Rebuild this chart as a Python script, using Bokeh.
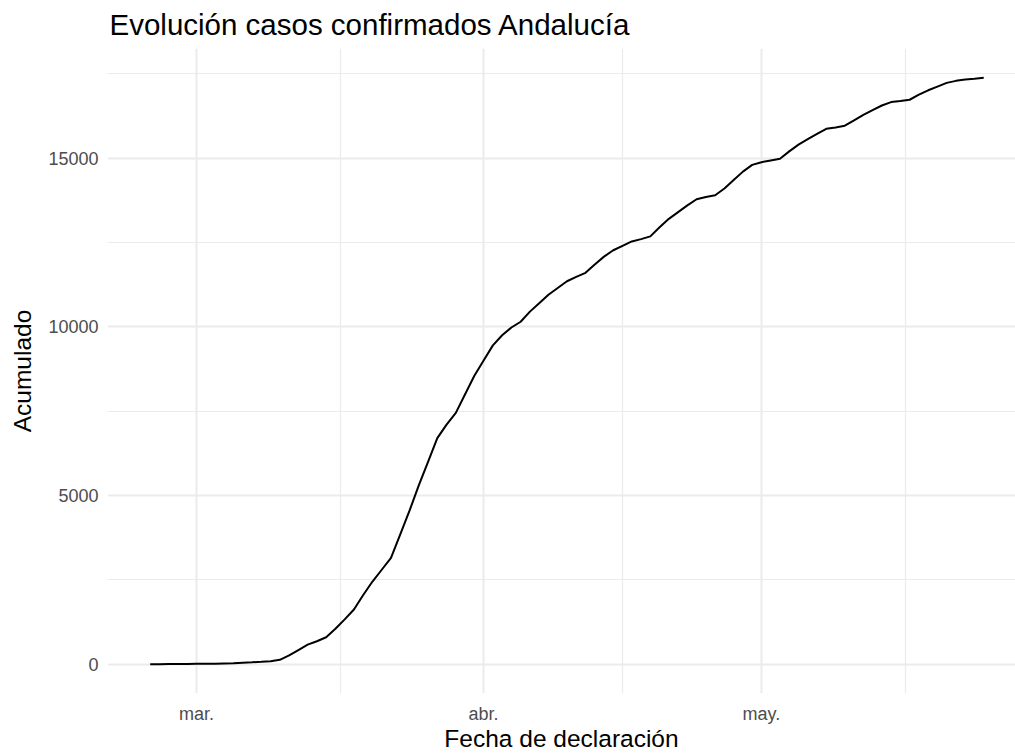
import pandas as pd
from bokeh.plotting import figure
from bokeh.models import Range1d, FixedTicker, CustomJSTickFormatter
from bokeh.embed import file_html
from bokeh.resources import INLINE

# ---- data ----
fecha_inicio = "2020-02-25"
acumulado = [
    1, 1, 6, 6, 8,                                   # Feb 25 - Feb 29
    12, 12, 13, 20, 25, 40, 55, 72, 90, 130,         # Mar 1 - Mar 10
    260, 420, 580, 680, 800, 1050, 1330, 1620, 2050, 2450,   # Mar 11 - Mar 20
    2800, 3150, 3850, 4550, 5300, 6000, 6700, 7100, 7450, 8000,  # Mar 21 - Mar 30
    8550,                                            # Mar 31
    9000, 9450, 9750, 9980, 10150, 10450, 10700, 10950, 11150, 11350,  # Apr 1 - Apr 10
    11480, 11600, 11850, 12080, 12270, 12400, 12530, 12600, 12680, 12950,  # Apr 11 - Apr 20
    13200, 13400, 13600, 13780, 13850, 13900, 14100, 14350, 14600, 14800,  # Apr 21 - Apr 30
    14880, 14930, 14980, 15200, 15400, 15560, 15720, 15870, 15910, 15960,  # May 1 - May 10
    16120, 16280, 16420, 16560, 16660, 16690, 16730, 16880, 17010, 17120,  # May 11 - May 20
    17230, 17290, 17330, 17350, 17380,               # May 21 - May 25
]
fechas = pd.date_range(fecha_inicio, periods=len(acumulado), freq="D")

titulo = "Evolución casos confirmados Andalucía"
eje_x = "Fecha de declaración"
eje_y = "Acumulado"
meses = ["ene.", "feb.", "mar.", "abr.", "may.", "jun."]
ticks_y = [0, 5000, 10000, 15000]
minor_y = [2500, 7500, 12500, 17500]


def ms(ts):
    return pd.Timestamp(ts).value / 1e6


DAY = 86400000.0
mar1 = ms("2020-03-01")
ticks_x = [ms("2020-02-01"), ms("2020-03-01"), ms("2020-04-01"), ms("2020-05-01"), ms("2020-06-01")]
minor_x = [(ticks_x[i] + ticks_x[i + 1]) / 2 for i in range(len(ticks_x) - 1)]

ymax, ymin = max(acumulado), min(acumulado)
yspan = ymax - ymin

p = figure(
    width=1015, height=754,
    x_axis_type="datetime",
    output_backend="svg", toolbar_location=None,
    min_border_left=107, min_border_right=0, min_border_top=48, min_border_bottom=61,
)
p.x_range = Range1d(mar1 - 9.61 * DAY, mar1 + 88.43 * DAY)
p.y_range = Range1d(ymin - 0.05 * yspan, ymax + 0.05 * yspan)

p.line(fechas, acumulado, line_color="black", line_width=2)

# title
p.title.text = titulo
p.title.text_font = "Liberation Sans"
p.title.text_font_size = "29.5px"
p.title.text_font_style = "normal"
p.title.text_color = "black"
p.title.text_line_height = 1.0
p.title.align = "left"
p.title.vertical_align = "top"
p.title.offset = 2
p.title.standoff = 12

# axes
for ax in (p.xaxis, p.yaxis):
    ax.axis_line_color = None
    ax.major_tick_line_color = None
    ax.minor_tick_line_color = None
    ax.major_tick_out = 0
    ax.major_tick_in = 0
    ax.major_label_text_font = "Liberation Sans"
    ax.major_label_text_font_size = "18px"
    ax.major_label_text_color = "#4D4D4D"
    ax.major_label_text_line_height = 1.0
    ax.axis_label_text_font = "Liberation Sans"
    ax.axis_label_text_font_size = "24.5px"
    ax.axis_label_text_font_style = "normal"
    ax.axis_label_text_color = "black"
    ax.axis_label_text_line_height = 1.0

p.xaxis.ticker = FixedTicker(ticks=ticks_x, minor_ticks=minor_x)
p.xaxis.formatter = CustomJSTickFormatter(
    args=dict(meses=meses),
    code="return meses[new Date(tick).getUTCMonth()];",
)
p.xaxis.axis_label = eje_x
p.xaxis.major_label_standoff = 6
p.xaxis.axis_label_standoff = -2

p.yaxis.ticker = FixedTicker(ticks=ticks_y, minor_ticks=minor_y)
p.yaxis.axis_label = eje_y
p.yaxis.major_label_standoff = 5
p.yaxis.axis_label_standoff = 9

# grid
for g in (p.xgrid, p.ygrid):
    g.grid_line_color = "#EBEBEB"
    g.grid_line_width = 2
    g.minor_grid_line_color = "#EBEBEB"
    g.minor_grid_line_width = 1.2

p.outline_line_color = None
p.background_fill_color = "white"
p.border_fill_color = "white"

open("out.html", "w").write(file_html(p, INLINE))
